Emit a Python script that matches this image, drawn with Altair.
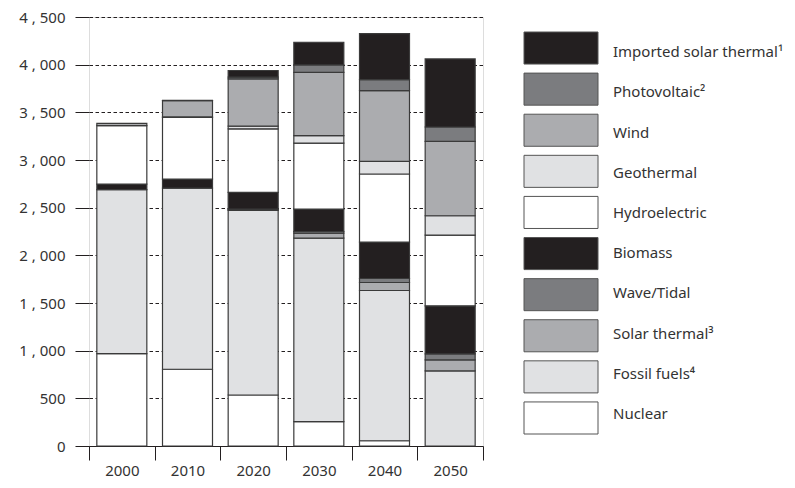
import altair as alt
import pandas as pd

years = ["2000", "2010", "2020", "2030", "2040", "2050"]

# stacking order, bottom to top
series = ["Nuclear", "Fossil fuels⁴", "Solar thermal³", "Wave/Tidal", "Biomass",
          "Hydroelectric", "Geothermal", "Wind", "Photovoltaic²", "Imported solar thermal¹"]
colors = ["#ffffff", "#e0e1e3", "#abacaf", "#7b7c7f", "#231f20",
          "#ffffff", "#e0e1e3", "#abacaf", "#7b7c7f", "#231f20"]

nuclear = [970, 805, 535, 255, 55, 0]
fossil = [1720, 1900, 1936, 1925, 1576, 787]
solar_thermal = [0, 0, 7, 53, 84, 116]
wave_tidal = [0, 0, 7, 17, 42, 63]
biomass = [57, 95, 175, 235, 382, 504]
hydro = [613, 647, 667, 693, 714, 742]
geothermal = [0, 5, 28, 77, 133, 203]
wind = [25, 170, 497, 665, 742, 780]
photovoltaic = [0, 3, 17, 77, 115, 151]
imported = [0, 0, 70, 238, 483, 714]

y_ticks = [0, 500, 1000, 1500, 2000, 2500, 3000, 3500, 4000, 4500]

values = [nuclear, fossil, solar_thermal, wave_tidal, biomass,
          hydro, geothermal, wind, photovoltaic, imported]

rows = []
for idx, (name, vals) in enumerate(zip(series, values)):
    for yr, v in zip(years, vals):
        if v > 0:
            rows.append({"year": yr, "series": name, "value": v, "idx": idx})
df = pd.DataFrame(rows)

legend_order = list(reversed(series))
leg_df = pd.DataFrame({"series": legend_order})

FONT = "Noto Sans"
TXT = "#333333"

color_scale = alt.Scale(domain=series, range=colors)

bars = alt.Chart(df).mark_bar(width=50, stroke="#3a3a3a", strokeWidth=1.2).encode(
    x=alt.X("year:N", sort=years,
            scale=alt.Scale(paddingInner=0, paddingOuter=0),
            axis=alt.Axis(title=None, labelAngle=0, tickBand="extent", tickSize=14,
                          tickColor="#231f20", domainColor="#231f20", labelPadding=3,
                          labelFontSize=15, labelFont=FONT, labelColor=TXT, grid=False)),
    y=alt.Y("value:Q", stack="zero",
            scale=alt.Scale(domain=[0, 4500], nice=False),
            axis=alt.Axis(title=None, values=y_ticks, domain=False, tickSize=14,
                          tickColor="#231f20", labelPadding=10, labelFontSize=15,
                          labelFont=FONT, labelColor=TXT, grid=True, gridColor="#231f20",
                          gridDash=[3.5, 2.5], gridWidth=1,
                          labelExpr="datum.value >= 1000 ? replace(format(datum.value, ','), ',', ' , ') : format(datum.value, 'd') + '\u00a0'")),
    color=alt.Color("series:N", scale=color_scale, legend=None),
    order=alt.Order("idx:Q", sort="ascending"),
)

leg_y = alt.Y("series:N", sort=legend_order,
              scale=alt.Scale(range=[15, 417], paddingInner=0.22, paddingOuter=0),
              axis=None)

leg_rect = alt.Chart(leg_df).mark_rect(stroke="#555555", strokeWidth=1).encode(
    y=leg_y,
    x=alt.value(435), x2=alt.value(509),
    color=alt.Color("series:N", scale=color_scale, legend=None),
)

leg_text = alt.Chart(leg_df).mark_text(align="left", baseline="middle", fontSize=15,
                                       font=FONT, color=TXT).encode(
    y=leg_y,
    x=alt.value(524),
    text="series:N",
)

chart = alt.layer(bars, leg_rect, leg_text).resolve_scale(y="independent").properties(
    width=394, height=429,
    autosize=alt.AutoSizeParams(type="none"),
    padding={"left": 81, "top": 9, "right": 300, "bottom": 35},
).configure_view(stroke=None).configure(background="white")

chart.save("out.html", embed_options={"renderer": "svg", "actions": False})
